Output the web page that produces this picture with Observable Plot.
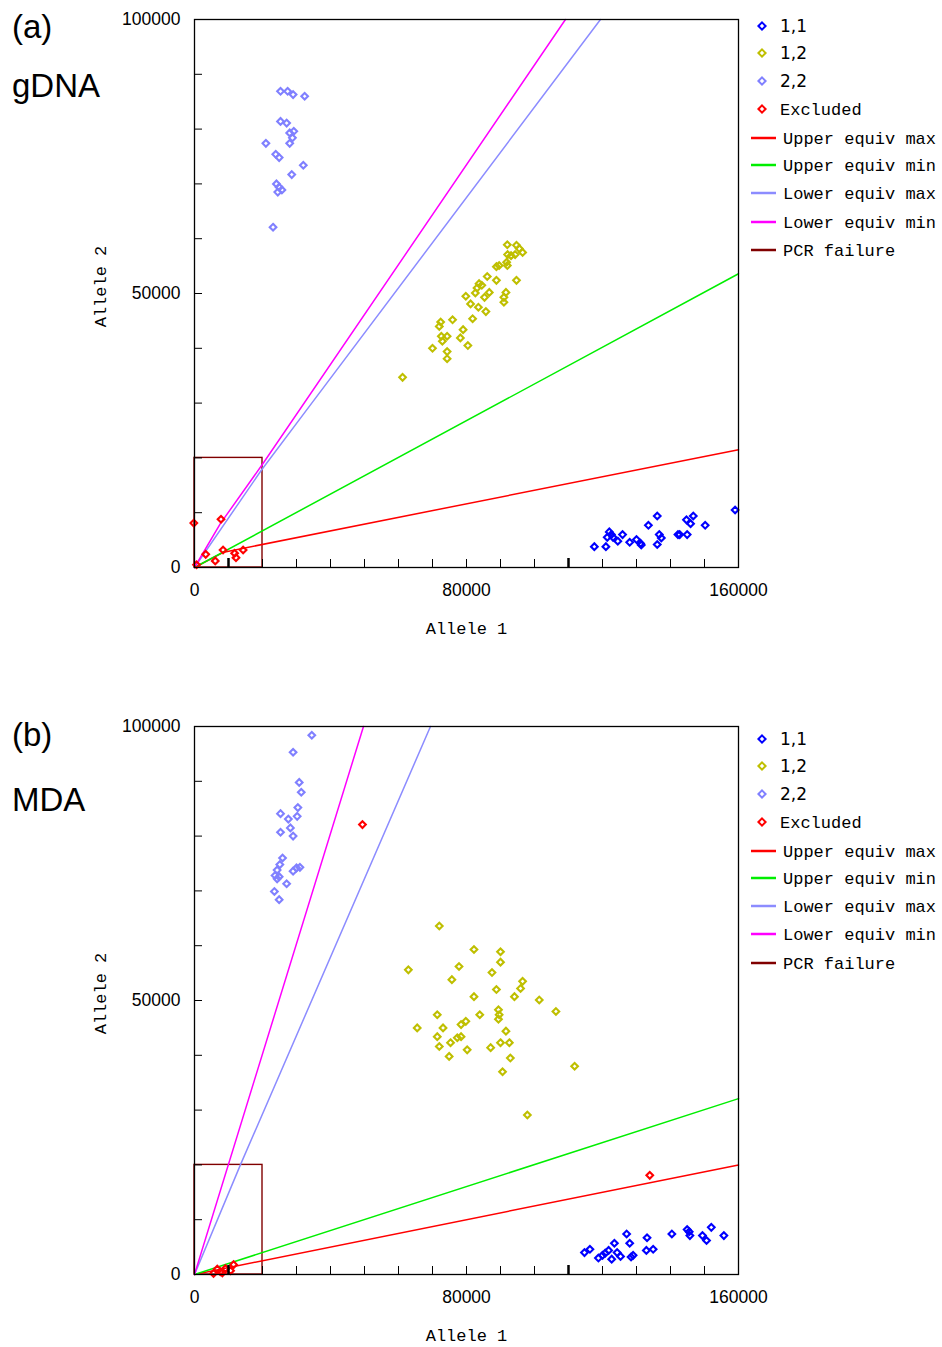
<!DOCTYPE html>
<html><head><meta charset="utf-8">
<script src="https://cdn.jsdelivr.net/npm/d3@7"></script>
<script src="https://cdn.jsdelivr.net/npm/@observablehq/plot@0.6"></script>
<style>
html,body{margin:0;padding:0;background:#fff;}
#fig{position:relative;width:942px;height:1347px;background:#fff;}
#fig svg{position:absolute;left:0;}
</style></head><body><div id="fig"></div>
<script>
// ---------- axes ----------
const xTickValues = [0,10000,20000,30000,40000,50000,60000,70000,80000,90000,100000,110000,120000,130000,140000,150000,160000];
const xBoldTicks = [10000,110000];
const xTickLabels = [0,80000,160000];
const yTickValues = [0,10000,20000,30000,40000,50000,60000,70000,80000,90000,100000];
const yTickLabels = [0,50000,100000];
const pcrFailure = [20000,20000];

// ---------- panel (a) gDNA ----------
const a11 = [[117600,3800],[121000,3800],[121400,5500],[122000,6500],[122600,6000],[123100,5500],[124500,4800],[125900,6000],[128000,4600],[130000,5100],[131200,4400],[131400,4100],[133500,7700],[136100,9400],[136700,6000],[137300,5400],[136100,4200],[142200,6000],[142700,6000],[144900,6000],[144700,8700],[146700,9400],[145900,8000],[150200,7700],[159000,10500]];
const a12 = [[92000,58900],[94700,58800],[95500,58200],[96500,57500],[92100,57100],[93100,56900],[94300,57100],[91800,55700],[88800,54900],[89600,55100],[92000,55100],[86100,53100],[88800,52400],[94700,52400],[83700,51800],[84500,51500],[83100,51000],[86700,50200],[91600,50200],[82600,50100],[79800,49500],[85300,49300],[91000,49300],[91000,48400],[81200,48100],[83500,47500],[85700,46700],[75900,45200],[81800,45400],[72400,44800],[72000,44000],[79000,43400],[72600,42200],[74300,42200],[78200,41900],[72900,41300],[80400,40500],[70000,40000],[74300,39400],[74300,38100],[61200,34700]];
const a22 = [[25300,86900],[27400,86900],[29000,86300],[32400,86000],[25300,81400],[27100,81100],[28000,79300],[29200,79600],[28800,78400],[28000,77400],[21000,77400],[23900,75400],[24900,74800],[32000,73400],[28600,71700],[24100,70000],[24900,69400],[25700,68900],[24500,68500],[23100,62100]];
const aExcluded = [[-200,8100],[7800,8800],[3300,2400],[6100,1200],[8400,3200],[11800,2600],[12200,1800],[14300,3200],[600,500]];
const aUpperMax = [[0,0],[8600,2800],[160000,21500]];
const aUpperMin = [[0,0],[160000,53600]];
const aLowerMax = [[0,0],[19600,17700],[35100,30500],[119400,100000]];
const aLowerMin = [[0,0],[7600,8000],[20400,19200],[109100,100000]];

// ---------- panel (b) MDA ----------
const b11 = [[114700,4000],[116300,4600],[118800,3000],[120000,3500],[120800,3900],[121800,4400],[122700,2800],[123500,5700],[124300,4000],[125300,3300],[127100,7400],[128000,5700],[128400,3200],[129000,3500],[133100,6700],[132900,4400],[134900,4600],[140400,7400],[144900,8200],[145500,7800],[145700,7100],[149400,7100],[150600,6200],[152000,8600],[155700,7100]];
const b12 = [[72000,63600],[82200,59300],[90000,58900],[90000,57000],[77800,56200],[62900,55600],[87500,55100],[75700,53800],[96500,53500],[95900,52200],[88800,52000],[94100,50700],[82200,50700],[101400,50100],[106300,48000],[89400,48300],[89600,47400],[89400,46600],[71400,47400],[83900,47400],[79800,46200],[78400,45600],[73100,45000],[65500,45000],[91600,44400],[71400,43400],[78400,43400],[77300,43200],[75300,42300],[90000,42300],[92600,42300],[72000,41600],[80200,41000],[87100,41400],[74900,39800],[92900,39500],[111800,38000],[90600,37000],[97900,29100]];
const b22 = [[34500,98400],[29000,95300],[30800,89800],[31400,88000],[30400,85200],[30200,83600],[25300,84100],[27600,83100],[28200,81500],[25300,80700],[29000,80000],[25900,76000],[25100,74800],[24300,73800],[23700,72800],[24900,72600],[24300,72200],[29000,73600],[30000,74200],[31000,74300],[27100,71300],[23500,69900],[24900,68400]];
const bExcluded = [[49400,82100],[133900,18100],[6700,1000],[7600,500],[9100,1100],[11500,1800],[5600,200],[10600,700],[8200,300]];
const bUpperMax = [[0,0],[160000,20000]];
const bUpperMin = [[0,0],[160000,32100]];
const bLowerMax = [[0,0],[13500,20000],[69400,100000]];
const bLowerMin = [[0,0],[49700,100000]];

// ---------- legend ----------
const legendPoints = ["1,1","1,2","2,2","Excluded"];
const legendLines = ["Upper equiv max","Upper equiv min","Lower equiv max","Lower equiv min","PCR failure"];

const C = {g11:"#0000ff", g12:"#bfbf00", g22:"#8080ff", excl:"#ff0000",
  upMax:"#ff0000", upMin:"#00ee00", loMax:"#8c8cff", loMin:"#ff00ff", pcr:"#800000"};
const pointColors = [C.g11, C.g12, C.g22, C.excl];
const lineColors = [C.upMax, C.upMin, C.loMax, C.loMin, C.pcr];

const MONO = "Liberation Mono, DejaVu Sans Mono, monospace";
const SANS = "Liberation Sans, Arial, sans-serif";
const X = d => d[0], Y = d => d[1];

function panel(p) {
  const H = p.height;
  const dotOpts = c => ({x: X, y: Y, symbol: "diamond2", r: 3, stroke: c, strokeWidth: 2.1, fill: "none"});
  const lineOpts = c => ({x: X, y: Y, stroke: c, strokeWidth: 1.5});
  const chart = Plot.plot({
    width: 942, height: H,
    marginLeft: 194, marginRight: 204, marginTop: 19, marginBottom: H - 19 - 548,
    x: {domain: [0,160000]}, y: {domain: [0,100000]},
    style: {background: "white", overflow: "visible", color: "black"},
    marks: [
      Plot.rect([pcrFailure], {x1: 0, x2: X, y1: 0, y2: Y, stroke: C.pcr, strokeWidth: 1.4, fill: "none"}),
      Plot.line(p.upMax, lineOpts(C.upMax)),
      Plot.line(p.upMin, lineOpts(C.upMin)),
      Plot.line(p.loMax, lineOpts(C.loMax)),
      Plot.line(p.loMin, lineOpts(C.loMin)),
      Plot.dot(p.g22, dotOpts(C.g22)),
      Plot.dot(p.g12, dotOpts(C.g12)),
      Plot.dot(p.g11, dotOpts(C.g11)),
      Plot.dot(p.excl, dotOpts(C.excl)),
      Plot.ruleX(xTickValues, {insetTop: 540, stroke: "#000"}),
      Plot.ruleX(xBoldTicks, {insetTop: 539, stroke: "#000", strokeWidth: 2.5}),
      Plot.ruleY(yTickValues, {insetRight: 536, stroke: "#000"}),
      Plot.frame({stroke: "#000", strokeWidth: 1.3}),
      Plot.axisX(xTickLabels, {tickSize: 0, tickPadding: 16, tickFormat: d3.format("d"), fontSize: 17.5, fontFamily: SANS, label: null}),
      Plot.axisY(yTickLabels, {tickSize: 0, tickPadding: 14, tickFormat: d3.format("d"), fontSize: 17.5, fontFamily: SANS, label: null}),
      Plot.text(["Allele 1"], {text: d => d, frameAnchor: "bottom", textAnchor: "middle", lineAnchor: "middle", dy: 61, fontSize: 17, fontFamily: MONO}),
      Plot.text(["Allele 2"], {text: d => d, frameAnchor: "left", textAnchor: "middle", lineAnchor: "middle", dx: -94, dy: -7, rotate: -90, fontSize: 17, fontFamily: MONO})
    ]
  });
  const svg = d3.select(chart);
  svg.append("text").attr("x", 12).attr("y", p.tagY).attr("text-anchor", "start")
    .attr("font-family", SANS).attr("font-size", 33).text(p.tag);
  svg.append("text").attr("x", 12).attr("y", p.nameY).attr("text-anchor", "start")
    .attr("font-family", SANS).attr("font-size", 33).text(p.name);
  const lg = svg.append("g").attr("text-anchor", "start");
  legendPoints.forEach((t, i) => {
    const y = p.legendY[i];
    lg.append("path").attr("d", "M0,-3.6L3.6,0L0,3.6L-3.6,0Z").attr("transform", `translate(762,${y})`)
      .attr("fill", "none").attr("stroke", pointColors[i]).attr("stroke-width", 2);
    lg.append("text").attr("x", 780).attr("y", y).attr("dy", "0.35em").attr("text-anchor", "start")
      .attr("font-family", i < 3 ? "DejaVu Sans, sans-serif" : MONO).attr("font-size", 17).text(t);
  });
  legendLines.forEach((t, i) => {
    const y = p.legendY[i + 4];
    lg.append("line").attr("x1", 751).attr("x2", 776).attr("y1", y).attr("y2", y)
      .attr("stroke", lineColors[i]).attr("stroke-width", 2.5);
    lg.append("text").attr("x", 783).attr("y", y).attr("dy", "0.35em").attr("text-anchor", "start")
      .attr("font-family", MONO).attr("font-size", 17).text(t);
  });
  return chart;
}

const fig = document.getElementById("fig");
const pa = panel({height: 660, tag: "(a)", tagY: 38, name: "gDNA", nameY: 97,
  legendY: [26,53,81,109,138,165,193,222,250],
  g11: a11, g12: a12, g22: a22, excl: aExcluded,
  upMax: aUpperMax, upMin: aUpperMin, loMax: aLowerMax, loMin: aLowerMin});
pa.style.top = "0px";
fig.appendChild(pa);
const pb = panel({height: 640, tag: "(b)", tagY: 39, name: "MDA", nameY: 104,
  legendY: [32,59,87,115,144,171,199,227,256],
  g11: b11, g12: b12, g22: b22, excl: bExcluded,
  upMax: bUpperMax, upMin: bUpperMin, loMax: bLowerMax, loMin: bLowerMin});
pb.style.top = "707px";
fig.appendChild(pb);
</script></body></html>
